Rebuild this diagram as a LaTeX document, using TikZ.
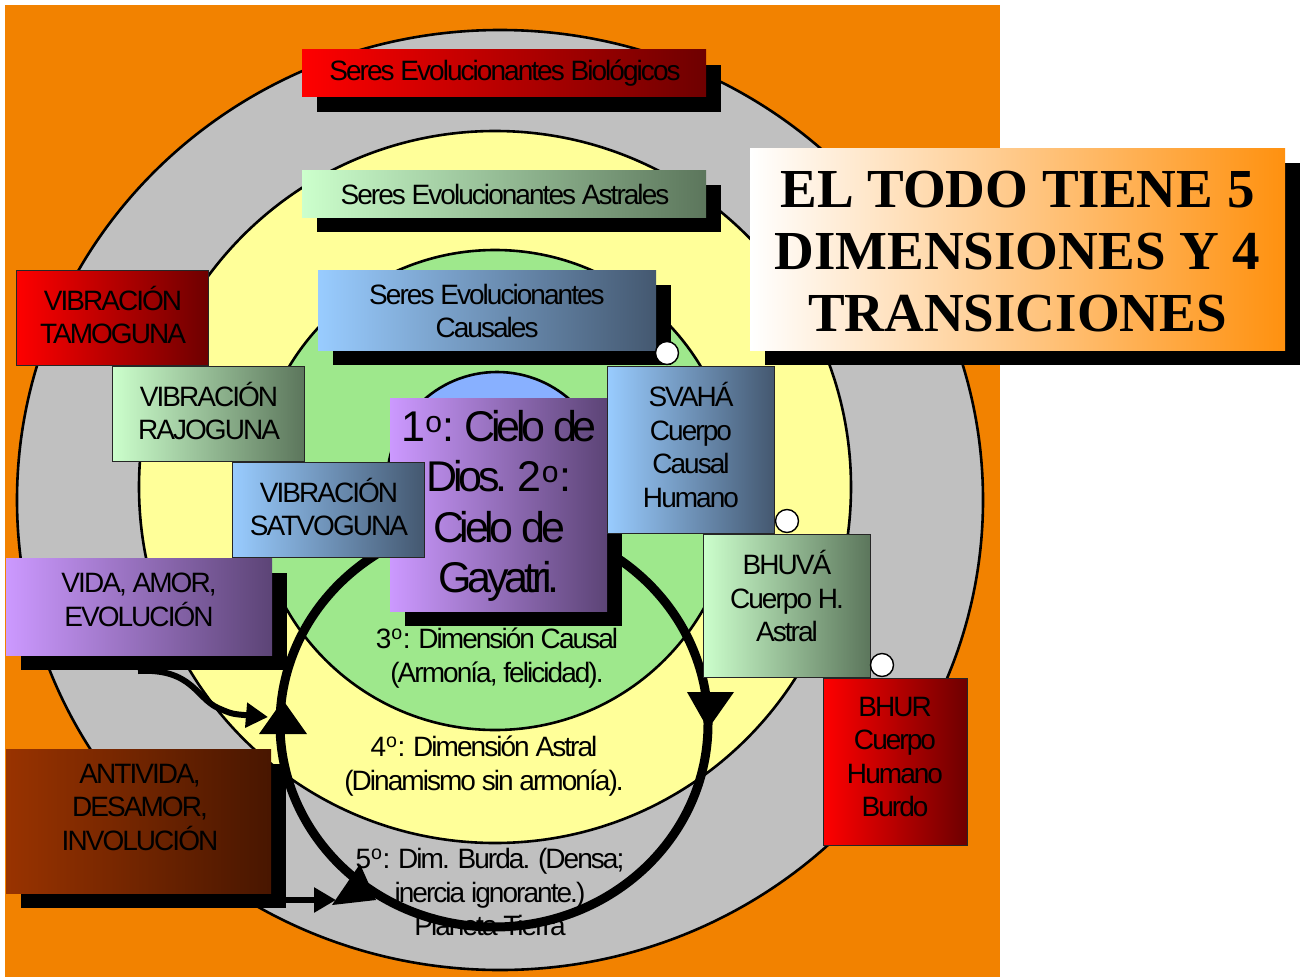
\documentclass[tikz,border=0pt]{standalone}
\usepackage{fontspec}
\setmainfont{Liberation Sans}
\newfontfamily\ar[LetterSpace=-7]{Liberation Sans}
\newfontfamily\arb[LetterSpace=-10]{Liberation Sans}
\newfontfamily\tm{Liberation Serif}
\usetikzlibrary{shadows,arrows.meta}
\definecolor{bgor}{RGB}{242,130,0}
\definecolor{ringgray}{RGB}{192,192,192}
\definecolor{ringyel}{RGB}{255,255,153}
\definecolor{ringgreen}{RGB}{158,232,140}
\definecolor{ringblue}{RGB}{136,176,255}
\definecolor{red1}{RGB}{255,0,0}
\definecolor{red2}{RGB}{110,0,0}
\definecolor{grn1}{RGB}{204,255,204}
\definecolor{grn2}{RGB}{92,118,92}
\definecolor{blu1}{RGB}{153,204,255}
\definecolor{blu2}{RGB}{68,88,112}
\definecolor{pur1}{RGB}{204,153,255}
\definecolor{pur2}{RGB}{92,68,118}
\definecolor{brn1}{RGB}{153,51,0}
\definecolor{brn2}{RGB}{72,22,0}
\definecolor{ttl2}{RGB}{255,145,15}
\begin{document}
\begin{tikzpicture}[x=1pt,y=-1pt,
  ring/.style={draw=black, line width=2.6pt},
  box/.style={rectangle, inner sep=0pt, outer sep=0pt},
  edged/.style={box, draw=black!85, line width=1pt},
  shd/.style={drop shadow={shadow xshift=15pt, shadow yshift=-15pt, opacity=1, fill=black}},
  lbl/.style={inner sep=0pt, align=center, font=\ar\fontsize{28}{33.5}\selectfont, text=black},
  big/.style={inner sep=0pt, align=center, font=\arb\fontsize{43}{50.5}\selectfont, text=black},
  ttl/.style={inner sep=0pt, align=center, text=black, font=\tm\bfseries\fontsize{55}{62}\selectfont},
  redg/.style={left color=red1, right color=red2},
  grng/.style={left color=grn1, right color=grn2},
  blug/.style={left color=blu1, right color=blu2},
  purg/.style={left color=pur1, right color=pur2},
  brng/.style={left color=brn1, right color=brn2},
  conn/.style={line width=6pt, -{Triangle[length=22pt,width=24pt]}},
  dot/.style={circle, draw=black, line width=1.4pt, fill=white, minimum size=23pt, inner sep=0pt},
]
\useasboundingbox (0,0) rectangle (1308,979);
% background
\fill[bgor] (5,5) rectangle (1000,977);
% rings
\draw[ring, fill=ringgray] (500,500) ellipse [x radius=483pt, y radius=470pt];
\draw[ring, fill=ringyel] (495,487) circle [radius=356pt];
\draw[ring, fill=ringgreen] (495,490) circle [radius=240pt];
\draw[ring, fill=ringblue] (497,482) circle [radius=110pt];
% ring labels
\node[lbl] (r3) at (497,658) {3\textsuperscript{o}: Dimensión Causal\\(Armonía, felicidad).};
\node[lbl] (r4) at (484,766) {4\textsuperscript{o}: Dimensión Astral\\(Dinamismo sin armonía).};
\node[lbl] (r5) at (490,892) {5\textsuperscript{o}: Dim. Burda. (Densa;\\inercia ignorante.)\\Planeta Tierra};
% big loop
\coordinate (loopc) at (494,724);
\draw[line width=9pt] (loopc) ellipse [x radius=214pt, y radius=203pt];
\fill (283,700) -- (259,734) -- (307,734) -- cycle;
\fill (687,692) -- (734,692) -- (708,729) -- cycle;
\fill (360,864) -- (332,905) -- (376,900) -- cycle;
% top boxes
\node[box, shd, redg, minimum width=404pt, minimum height=47pt] (bio) at (504,73.5) {};
\node[lbl] (biot) at (505,73) {Seres Evolucionantes Biológicos};
\node[box, shd, grng, minimum width=404pt, minimum height=47pt] (astr) at (504,193.5) {};
\node[lbl] (astrt) at (505,194) {Seres Evolucionantes Astrales};
\node[box, shd, blug, minimum width=338pt, minimum height=80pt] (caus) at (487,310) {};
\node[lbl] (caust) at (487,311) {Seres Evolucionantes\\Causales};
% vibration boxes
\node[edged, redg, minimum width=192pt, minimum height=95pt] (tamo) at (112,317.5) {};
\node[lbl] (tamot) at (113,315) {VIBRACIÓN\\TAMOGUNA};
\node[edged, grng, minimum width=192pt, minimum height=95pt] (rajo) at (208,413.5) {};
\node[lbl] (rajot) at (209,411) {VIBRACIÓN\\RAJOGUNA};
% cielo
\node[box, shd, purg, minimum width=217pt, minimum height=213pt] (cielo) at (498.5,504.5) {};
\node[big] (cielot) at (499,506) {1\textsuperscript{o}: Cielo de\\Dios. 2\textsuperscript{o}:\\Cielo de\\Gayatri.};
\node[edged, blug, minimum width=192pt, minimum height=95pt] (satv) at (328,509.5) {};
\node[lbl] (satvt) at (329,507) {VIBRACIÓN\\SATVOGUNA};
% vida / antivida
\node[box, shd, purg, minimum width=266pt, minimum height=97pt] (vida) at (139,606.5) {};
\node[lbl] (vidat) at (139,600) {VIDA, AMOR,\\EVOLUCIÓN};
\node[box, shd, brng, minimum width=265pt, minimum height=144pt] (anti) at (138.5,821) {};
\node[lbl] (antit) at (140,807) {ANTIVIDA,\\DESAMOR,\\INVOLUCIÓN};
% body boxes
\node[edged, blug, minimum width=167pt, minimum height=167pt] (svaha) at (690.5,449.5) {};
\node[lbl] (svahat) at (691,445) {SVAHÁ\\Cuerpo\\Causal\\Humano};
\node[edged, grng, minimum width=167pt, minimum height=143pt] (bhuva) at (786.5,605.5) {};
\node[lbl] (bhuvat) at (787,596) {BHUVÁ\\Cuerpo H.\\Astral};
\node[edged, redg, minimum width=144pt, minimum height=167pt] (bhur) at (895,761.5) {};
\node[lbl] (bhurt) at (895,757) {BHUR\\Cuerpo\\Humano\\Burdo};
% dots
\node[dot] (d1) at (667,353) {};
\node[dot] (d2) at (787,521) {};
\node[dot] (d3) at (882,665) {};
% arrows from vida / antivida
\coordinate (vidaA) at (138,671);
\coordinate (vidaB) at (268,717);
\draw[conn] (vidaA) .. controls (192,668) and (196,698) .. (218,708) .. controls (232,714) .. (vidaB);
\coordinate (antiA) at (280,900);
\coordinate (antiB) at (336,900);
\draw[conn] (antiA) -- (antiB);
% title
\node[box, shd, left color=white, right color=ttl2, minimum width=535pt, minimum height=202pt] (title) at (1017.5,249) {};
\node[ttl] (titlet) at (1017.5,252) {EL TODO TIENE 5\\DIMENSIONES Y 4\\TRANSICIONES};
\end{tikzpicture}
\end{document}
